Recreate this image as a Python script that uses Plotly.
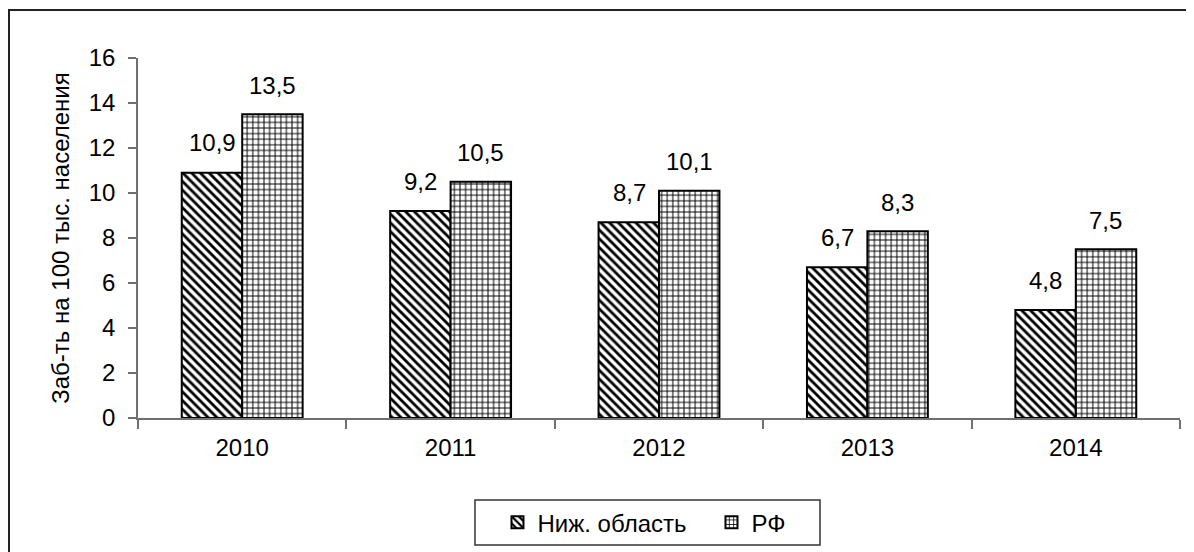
import plotly.graph_objects as go

years = ["2010", "2011", "2012", "2013", "2014"]
region_vals = [10.9, 9.2, 8.7, 6.7, 4.8]
rf_vals = [13.5, 10.5, 10.1, 8.3, 7.5]
region_labels = ["10,9", "9,2", "8,7", "6,7", "4,8"]
rf_labels = ["13,5", "10,5", "10,1", "8,3", "7,5"]
series_names = ["Ниж. область", "РФ"]
y_title = "Заб-ть на 100 тыс. населения"

FONT = "Arial, 'Liberation Sans', sans-serif"
FS = 24

fig = go.Figure()
fig.add_trace(go.Bar(
    x=years, y=region_vals, name=series_names[0],
    marker=dict(color="white",
                line=dict(color="black", width=2),
                pattern=dict(shape="\\", fgcolor="black", bgcolor="white",
                             size=6.2, solidity=0.45, fillmode="replace")),
))
fig.add_trace(go.Bar(
    x=years, y=rf_vals, name=series_names[1],
    marker=dict(color="white",
                line=dict(color="black", width=2),
                pattern=dict(shape="+", fgcolor="black", bgcolor="white",
                             size=5.6, solidity=0.32, fillmode="replace")),
))

annotations = []
for i, (v, lab) in enumerate(zip(region_vals, region_labels)):
    annotations.append(dict(x=i, y=v, xref="x", yref="y", text=lab, showarrow=False,
                            xshift=-30, yshift=30, xanchor="center", yanchor="middle",
                            font=dict(family=FONT, size=FS, color="black")))
for i, (v, lab) in enumerate(zip(rf_vals, rf_labels)):
    annotations.append(dict(x=i, y=v, xref="x", yref="y", text=lab, showarrow=False,
                            xshift=30, yshift=29, xanchor="center", yanchor="middle",
                            font=dict(family=FONT, size=FS, color="black")))

fig.update_layout(
    width=1194, height=552,
    margin=dict(l=130, r=22, t=50, b=142),
    paper_bgcolor="white", plot_bgcolor="white",
    font=dict(family=FONT, size=FS, color="black"),
    barmode="group", bargap=0.42, bargroupgap=0,
    showlegend=True,
    legend=dict(orientation="h", x=0.3450, xanchor="left", y=-0.228, yanchor="top",
                borderwidth=0, bgcolor="rgba(0,0,0,0)",
                font=dict(family=FONT, size=FS, color="black"),
                itemwidth=30, traceorder="normal", entrywidth=169),
    annotations=annotations,
    shapes=[
        dict(type="rect", xref="paper", yref="paper",
             x0=-0.1238, x1=1.03, y0=-0.45, y1=1.1333,
             line=dict(color="#222222", width=2), layer="below"),
        dict(type="rect", xref="paper", yref="paper",
             x0=0.3234, x1=0.6545, y0=-0.3528, y1=-0.2278,
             line=dict(color="#333333", width=1.5), layer="below"),
    ],
)
fig.update_xaxes(
    type="category", range=[-0.5, len(years) - 0.5], autorange=False,
    showline=True, linecolor="#707070", linewidth=1.5,
    ticks="outside", tickson="boundaries", ticklen=9, tickcolor="#707070",
    tickwidth=1.5, showgrid=False, tickangle=0, automargin=False,
    ticklabelstandoff=7,
    tickfont=dict(family=FONT, size=FS, color="black"),
)
fig.update_yaxes(
    range=[0, 16], dtick=2, showline=True, linecolor="#707070", linewidth=1.5,
    ticks="outside", ticklen=8, tickcolor="#707070", tickwidth=1.5,
    showgrid=False, zeroline=False, automargin=False, ticklabelstandoff=8,
    tickfont=dict(family=FONT, size=FS, color="black"),
    title=dict(text=y_title, standoff=12, font=dict(family=FONT, size=FS, color="black")),
)

fig.write_html("out.html")
